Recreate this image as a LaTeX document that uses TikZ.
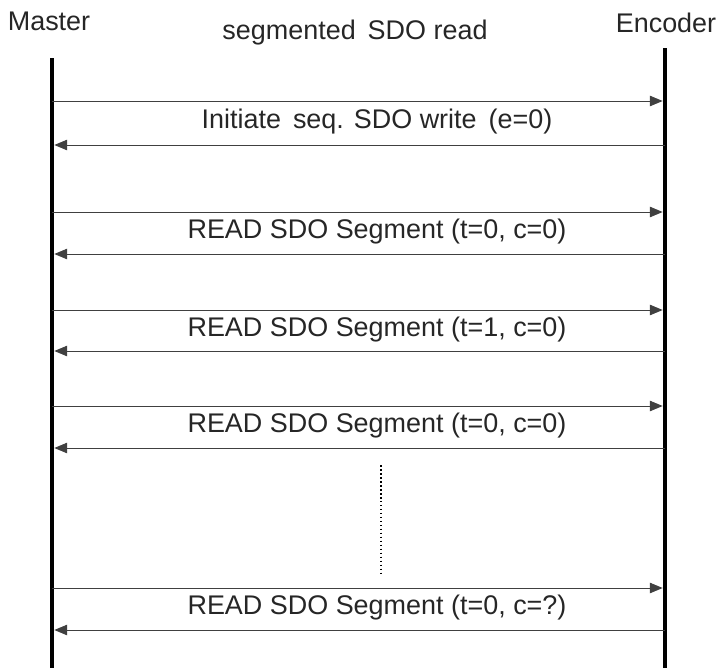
\documentclass[tikz,border=0pt]{standalone}
\usepackage{fontspec}
\setmainfont{Liberation Sans}
\usetikzlibrary{arrows.meta}
\tikzset{
  lbl/.style={font=\fontsize{23}{27}\selectfont, text=black!85},
  msg/.style={draw=black!75, line width=0.8pt, -{Triangle[length=11pt,width=9pt]}, shorten >=2pt},
  life/.style={line width=3pt}
}
\begin{document}
\begin{tikzpicture}[x=0.03cm, y=-0.03cm]
        \useasboundingbox (0,0) rectangle (718,668);
        % lifelines
        \node[lbl] (master) at (49,21) {Master};
        \node[lbl] (title) at (355,33) {segmented\, SDO read};
        \node[lbl] (encoder) at (666,23) {Encoder};
        \coordinate (m0) at (52,58);
        \coordinate (m1) at (52,668);
        \coordinate (e0) at (665,48);
        \coordinate (e1) at (665,668);
        \draw[life] (m0) -- (m1);
        \draw[life] (e0) -- (e1);

        % messages
        \foreach \i/\ya/\yb/\txt in {1/101/145/{Initiate\, seq. SDO write\, (e=0)},
                                     2/212/254/{READ SDO Segment (t=0, c=0)},
                                     3/310/351/{READ SDO Segment (t=1, c=0)},
                                     4/406/448/{READ SDO Segment (t=0, c=0)},
                                     5/588/630/{READ SDO Segment (t=0, c=?)}} {
          \coordinate (req\i a) at (52,\ya);
          \coordinate (req\i b) at (665,\ya);
          \coordinate (rsp\i a) at (665,\yb);
          \coordinate (rsp\i b) at (52,\yb);
          \draw[msg] (req\i a) -- (req\i b);
          \draw[msg] (rsp\i a) -- (rsp\i b);
          \node[lbl] (txt\i) at (377,{(\ya+\yb)/2-1}) {\txt};
        }

        % gap
        \coordinate (d0) at (381,465);
        \coordinate (d1) at (381,575);
        \draw[dotted, line width=1.4pt] (d0) -- (d1);
\end{tikzpicture}
\end{document}
